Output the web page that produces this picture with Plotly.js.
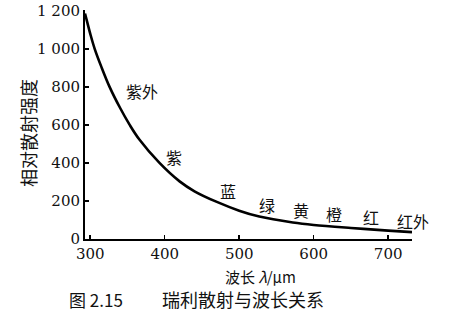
<!DOCTYPE html>
<html><head><meta charset="utf-8">
<script src="https://cdn.plot.ly/plotly-3.0.1.min.js"></script>
<style>html,body{margin:0;padding:0;background:#fff;}#c{width:449px;height:329px;}</style>
</head><body><div id="c"></div>
<script>
// wavelength (as labelled on the axis) and relative scattering intensity
const wavelength = [293, 296, 300, 306, 315, 326, 340, 353, 366, 393, 420, 440, 470, 500, 527, 572, 600, 650, 700, 732];
const intensity  = [1185, 1140, 1080, 1000, 905, 800, 690, 600, 523, 400, 303, 251, 195, 149, 118, 87, 74, 58, 44, 36];
const xTicks = [300, 400, 500, 600, 700];
const xTickText = ["300", "400", "500", "600", "700"];
const yTicks = [0, 200, 400, 600, 800, 1000, 1200];
const yTickText = ["0", "200", "400", "600", "800", "1 000", "1 200"];
const bandNames = ["紫外", "紫", "蓝", "绿", "黄", "橙", "红"];
const bandX = [369, 412, 485, 537, 583, 627, 677];
const bandY = [779, 431, 251, 179, 154, 133, 118];
const irName = "红外";
const xTitle = "波长 <i>λ</i>/μm";
const yTitle = "相对散射强度";
const captionNo = "图 2.15";
const captionText = "瑞利散射与波长关系";

const cjk = "'Noto Sans CJK SC', 'DejaVu Serif', serif";
const num = "'DejaVu Serif', 'Liberation Serif', serif";
const T = 10, L = 85, B = 239, R = 412;
const W = R - L, H = B - T;
const px = v => (v - L) / W;
const py = v => (B - v) / H;

const annotations = bandNames.map((t, i) => ({
  text: t, x: bandX[i], y: bandY[i], xref: 'x', yref: 'y',
  showarrow: false, xanchor: 'center', yanchor: 'middle',
  font: {family: cjk, size: 16, color: '#111'}
}));
annotations.push({
  text: irName, xref: 'paper', yref: 'paper', x: px(413), y: py(221),
  showarrow: false, xanchor: 'center', yanchor: 'middle',
  font: {family: cjk, size: 16, color: '#111'}
});
annotations.push({
  text: xTitle, xref: 'paper', yref: 'paper', x: px(260), y: py(276),
  showarrow: false, xanchor: 'center', yanchor: 'middle',
  font: {family: cjk, size: 15, color: '#111'}
});
annotations.push({
  text: yTitle, xref: 'paper', yref: 'paper', x: px(28), y: py(133),
  showarrow: false, xanchor: 'center', yanchor: 'middle', textangle: -90,
  font: {family: cjk, size: 18, color: '#111'}
});
annotations.push({
  text: captionNo, xref: 'paper', yref: 'paper', x: px(96), y: py(299),
  showarrow: false, xanchor: 'center', yanchor: 'middle',
  font: {family: cjk, size: 17, color: '#111'}
});
annotations.push({
  text: captionText, xref: 'paper', yref: 'paper', x: px(243), y: py(299),
  showarrow: false, xanchor: 'center', yanchor: 'middle',
  font: {family: cjk, size: 18, color: '#111'}
});

Plotly.newPlot('c', [{
  x: wavelength, y: intensity, type: 'scatter', mode: 'lines',
  line: {color: '#000', width: 2.6, shape: 'spline', smoothing: 1},
  hoverinfo: 'skip'
}], {
  width: 449, height: 329,
  margin: {l: L, r: 449 - R, t: T, b: 329 - B},
  paper_bgcolor: '#fff', plot_bgcolor: '#fff',
  showlegend: false,
  xaxis: {
    range: [293, 732], tickvals: xTicks, ticktext: xTickText,
    showgrid: false, zeroline: false, showline: true, linecolor: '#000', linewidth: 2,
    ticks: 'inside', ticklen: 4, tickwidth: 1.5, tickcolor: '#000',
    tickfont: {family: num, size: 15, color: '#111'}
  },
  yaxis: {
    range: [0, 1204], tickvals: yTicks, ticktext: yTickText,
    showgrid: false, zeroline: false, showline: true, linecolor: '#000', linewidth: 2,
    ticks: 'inside', ticklen: 4, tickwidth: 1.5, tickcolor: '#000',
    ticklabeloverflow: 'allow',
    tickfont: {family: num, size: 15, color: '#111'}
  },
  annotations: annotations
}, {displayModeBar: false, staticPlot: true});
</script></body></html>
